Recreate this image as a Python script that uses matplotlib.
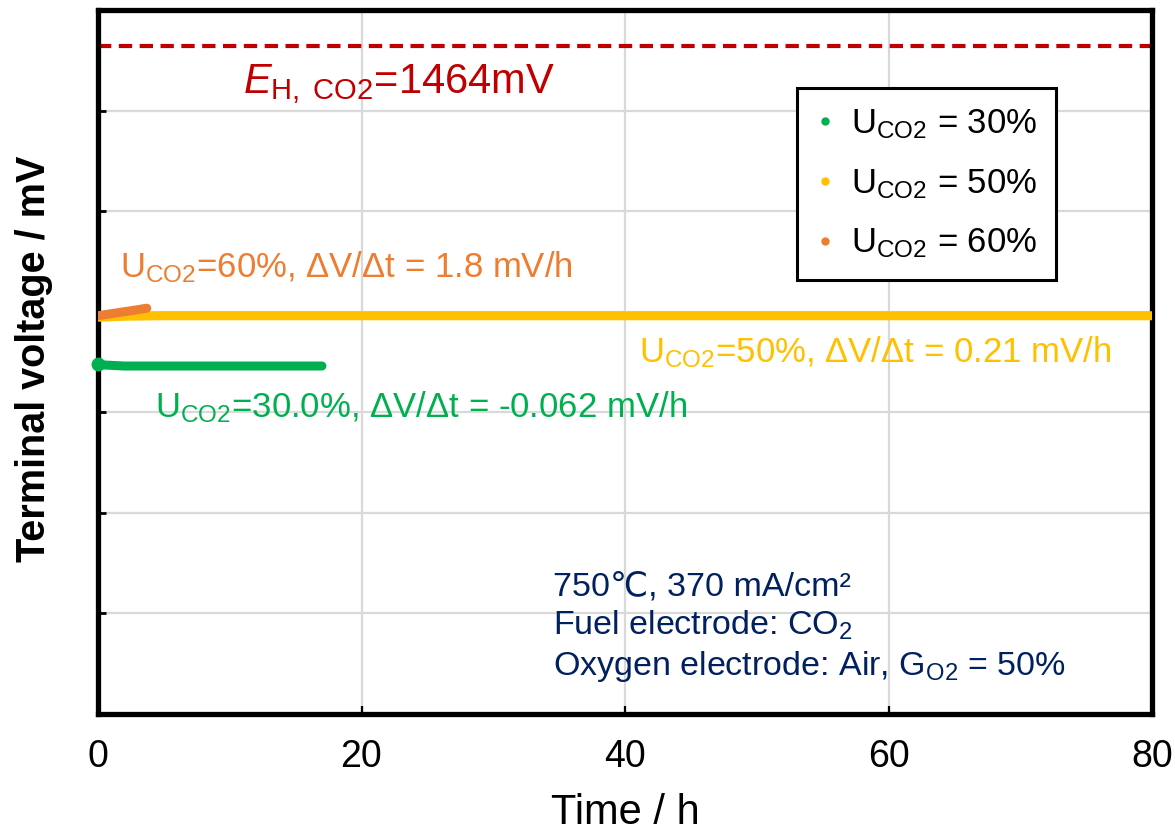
import matplotlib
matplotlib.use("Agg")
import matplotlib.pyplot as plt
from matplotlib.lines import Line2D
from matplotlib import font_manager as fm

# ---------------- data ----------------
time_30 = [0, 0.5, 2, 5, 8, 11, 14, 17]
volt_30 = [1148, 1147, 1146, 1146, 1146, 1146, 1146, 1146]

time_50 = [0, 2, 5, 10, 20, 30, 40, 50, 60, 70, 80]
volt_50 = [1194.5, 1195.5, 1196, 1196, 1196, 1196, 1196, 1196, 1196, 1196, 1196]

time_60 = [0, 1, 2, 3, 3.7]
volt_60 = [1196, 1198, 1200, 1202, 1203.5]

E_H = 1464
x_ticks = [0, 20, 40, 60, 80]
y_ticks = [800, 900, 1000, 1100, 1200, 1300, 1400, 1500]

series_labels = [r"U$_{\mathregular{CO2}}$ = 30%",
                 r"U$_{\mathregular{CO2}}$ = 50%",
                 r"U$_{\mathregular{CO2}}$ = 60%"]
colors = ["#00B050", "#FFC000", "#ED7D31"]

# ---------------- fonts ----------------
plt.rcParams['font.family'] = ['Liberation Sans', 'DejaVu Sans']
plt.rcParams['mathtext.fontset'] = 'custom'
plt.rcParams['mathtext.rm'] = 'Liberation Sans'
plt.rcParams['mathtext.it'] = 'Liberation Sans:italic'
plt.rcParams['mathtext.bf'] = 'Liberation Sans:bold'

names = {f.name for f in fm.fontManager.ttflist}
tick_family = 'Liberation Sans Narrow' if 'Liberation Sans Narrow' in names else 'Liberation Sans'

fig = plt.figure(figsize=(11.75, 8.35), dpi=100)
ax = fig.add_axes([98/1175, 1 - 714/835, (1152-98)/1175, (714-10)/835])

ax.set_xlim(0, 80)
ax.set_ylim(800, 1500)
ax.set_xticks(x_ticks)
ax.set_yticks(y_ticks)
ax.set_yticklabels([])
ax.grid(True, color='#D9D9D9', linewidth=1.6, zorder=0)
ax.set_axisbelow(True)

for s in ax.spines.values():
    s.set_linewidth(3.8)
    s.set_color('black')

ax.tick_params(axis='x', direction='in', length=6, width=1.6, pad=18,
               labelsize=27, labelfontfamily=tick_family)
ax.tick_params(axis='y', direction='in', length=6, width=2, left=True)

# data lines
ax.plot(time_50, volt_50, color=colors[1], lw=6.5, solid_capstyle='round', zorder=3)
ax.plot(time_30, volt_30, color=colors[0], lw=6.5, solid_capstyle='round', zorder=3)
ax.plot(time_30[:1], volt_30[:1], 'o', color=colors[0], ms=9, zorder=5, clip_on=False)
ax.plot(time_60, volt_60, color=colors[2], lw=6.5, solid_capstyle='round', zorder=4)

# theoretical voltage
ax.axhline(E_H, color='#C00000', lw=3, dashes=(3.2, 1.8), zorder=2)
ax.text(11.0, 1417, r"$\mathit{E}_{\mathregular{H,\ CO2}}$=1464mV", color='#C00000',
        fontsize=30, va='baseline', ha='left')

# annotations
ax.text(1.67, 1234.5, r"U$_{\mathregular{CO2}}$=60%, ΔV/Δt = 1.8 mV/h", color=colors[2],
        fontsize=25, va='baseline', ha='left')
ax.text(41.1, 1150, r"U$_{\mathregular{CO2}}$=50%, ΔV/Δt = 0.21 mV/h", color=colors[1],
        fontsize=25, va='baseline', ha='left')
ax.text(4.33, 1095.5, r"U$_{\mathregular{CO2}}$=30.0%, ΔV/Δt = -0.062 mV/h", color=colors[0],
        fontsize=25, va='baseline', ha='left')

navy = '#002060'
ax.text(34.5, 918, "750℃, 370 mA/cm²", color=navy, fontsize=24.5,
        va='baseline', ha='left')
ax.text(34.5, 878.5, "Fuel electrode: CO$_{\\mathregular{2}}$", color=navy, fontsize=24.5,
        va='baseline', ha='left')
ax.text(34.5, 839, "Oxygen electrode: Air, G$_{\\mathregular{O2}}$ = 50%", color=navy, fontsize=24.5,
        va='baseline', ha='left')

# legend
handles = [Line2D([], [], marker='o', ls='none', color=c, markersize=5) for c in colors]
leg = ax.legend(handles, series_labels, loc='upper left', bbox_to_anchor=(0.663, 0.889),
                fontsize=25, frameon=True, fancybox=False, borderpad=0.55,
                handlelength=0.55, handletextpad=0.45, labelspacing=0.75,
                borderaxespad=0)
leg.get_frame().set_edgecolor('black')
leg.get_frame().set_linewidth(2.2)
leg.get_frame().set_alpha(1)

ax.set_xlabel("Time / h", fontsize=30)
ax.xaxis.set_label_coords(0.5, -0.112)
ax.set_ylabel("Terminal voltage / mV", fontsize=28.5, fontweight='bold')
ax.yaxis.set_label_coords(-0.043, 0.505)

fig.savefig("out.png", dpi=100)
